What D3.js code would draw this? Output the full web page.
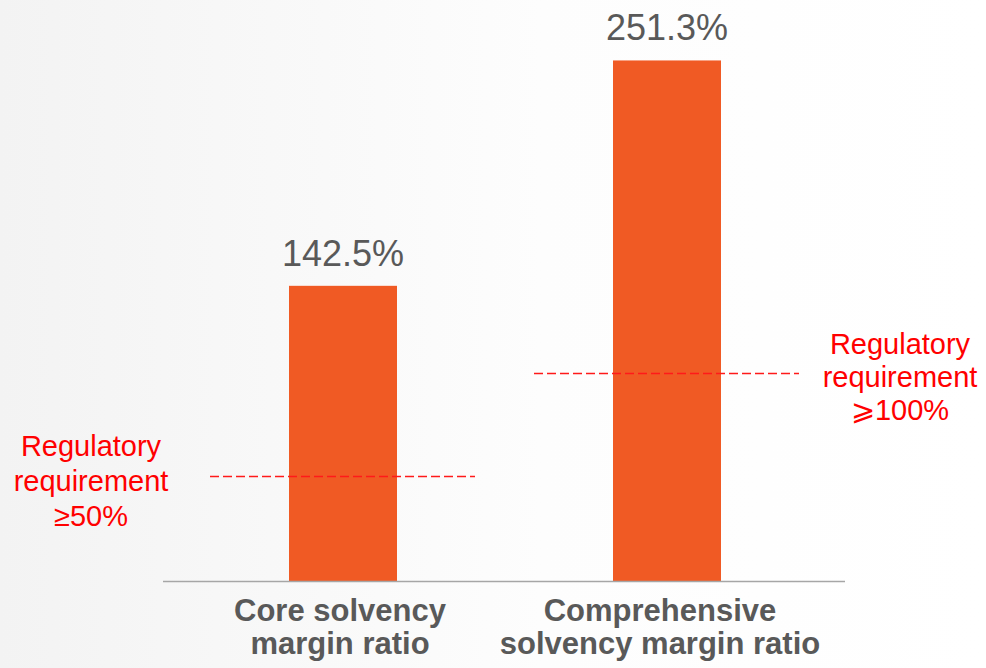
<!DOCTYPE html>
<html>
<head>
<meta charset="utf-8">
<script src="https://cdn.jsdelivr.net/npm/d3@7/dist/d3.min.js"></script>
<style>
  html, body { margin: 0; padding: 0; }
  body { width: 986px; height: 668px; overflow: hidden; }
  text { font-family: Arial, "Liberation Sans", sans-serif; }
</style>
</head>
<body>
<div id="chart"></div>
<script>
// Data
var categories = ["Core solvency margin ratio", "Comprehensive solvency margin ratio"];
var catLines = [["Core solvency", "margin ratio"], ["Comprehensive", "solvency margin ratio"]];
var values = [142.5, 251.3];
var valueLabels = ["142.5%", "251.3%"];
var reqValues = [50, 100];
var reqLabels = [["Regulatory", "requirement", "\u226550%"], ["Regulatory", "requirement", "\u2A7E100%"]];

var width = 986, height = 668;
var baseY = 581;

var svg = d3.select("#chart").append("svg")
  .attr("width", width)
  .attr("height", height);

// soft grey-to-white backdrop
var defs = svg.append("defs");
var grad = defs.append("linearGradient").attr("id", "bg")
  .attr("x1", "0%").attr("y1", "0%").attr("x2", "100%").attr("y2", "0%");
grad.append("stop").attr("offset", "0%").attr("stop-color", "#f3f3f3");
grad.append("stop").attr("offset", "55%").attr("stop-color", "#fdfdfd");
grad.append("stop").attr("offset", "100%").attr("stop-color", "#ffffff");
svg.append("rect").attr("width", width).attr("height", height).attr("fill", "url(#bg)");

// scales
var xScale = d3.scaleBand()
  .domain(categories)
  .range([181, 829])
  .paddingInner(2 / 3)
  .paddingOuter(1 / 3);

var yScale = d3.scaleLinear()
  .domain([0, 280])
  .range([baseY, 1]);

var bw = xScale.bandwidth();

// bars
svg.selectAll("rect.bar")
  .data(values)
  .enter()
  .append("rect")
  .attr("class", "bar")
  .attr("x", function(d, i) { return xScale(categories[i]); })
  .attr("y", function(d) { return yScale(d); })
  .attr("width", bw)
  .attr("height", function(d) { return baseY - yScale(d); })
  .attr("fill", "#f05a24");

// baseline axis
svg.append("line")
  .attr("x1", 163).attr("x2", 845)
  .attr("y1", baseY + 0.5).attr("y2", baseY + 0.5)
  .attr("stroke", "#a6a6a6")
  .attr("stroke-width", 1.5);

// value labels
svg.selectAll("text.val")
  .data(values)
  .enter()
  .append("text")
  .attr("class", "val")
  .attr("x", function(d, i) { return xScale(categories[i]) + bw / 2; })
  .attr("y", function(d) { return yScale(d) - 20; })
  .attr("text-anchor", "middle")
  .attr("font-size", 36)
  .attr("fill", "#595959")
  .text(function(d, i) { return valueLabels[i]; });

// regulatory dashed lines
svg.selectAll("line.req")
  .data(reqValues)
  .enter()
  .append("line")
  .attr("class", "req")
  .attr("x1", function(d, i) { return xScale(categories[i]) + bw / 2 - 133; })
  .attr("x2", function(d, i) { return xScale(categories[i]) + bw / 2 + 132; })
  .attr("y1", function(d) { return Math.round(yScale(d)) - 0.5; })
  .attr("y2", function(d) { return Math.round(yScale(d)) - 0.5; })
  .attr("stroke", "#ff1a1a")
  .attr("stroke-width", 1.3)
  .attr("stroke-dasharray", "9,4");

// regulatory labels
var reqX = [91, 900];
var reqY = [456, 354];
reqLabels.forEach(function(lines, i) {
  var t = svg.append("text")
    .attr("text-anchor", "middle")
    .attr("font-size", 29)
    .attr("fill", "#ff0000");
  lines.forEach(function(s, j) {
    t.append("tspan")
      .attr("x", reqX[i])
      .attr("y", reqY[i] + j * (i === 0 ? 35 : 33))
      .text(s);
  });
});

// category labels
catLines.forEach(function(lines, i) {
  var cx = xScale(categories[i]) + bw / 2 - (i === 0 ? 3 : 7);
  var t = svg.append("text")
    .attr("text-anchor", "middle")
    .attr("font-size", 31)
    .attr("font-weight", "bold")
    .attr("fill", "#595959");
  lines.forEach(function(s, j) {
    t.append("tspan")
      .attr("x", cx)
      .attr("y", 621 + j * 33)
      .text(s);
  });
});
</script>
</body>
</html>
